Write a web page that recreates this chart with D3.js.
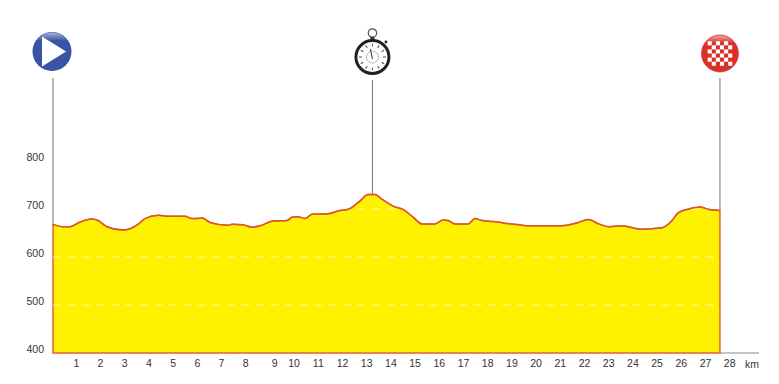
<!DOCTYPE html>
<html>
<head>
<meta charset="utf-8">
<script src="https://cdn.jsdelivr.net/npm/d3@7"></script>
<style>
    html, body { margin: 0; padding: 0; background: #ffffff; }
    svg { display: block; }
    text { font-family: "Liberation Sans", Arial, sans-serif; fill: #333333; }
</style>
</head>
<body>
<div id="chart"></div>
<script>
// Profile
const distances = [0, .41, .70, 1.12, 1.61, 1.86, 2.23, 2.89, 3.51, 3.80, 4.38, 4.71, 5.45, 5.74, 5.95, 6.16,
    6.49, 7.23, 7.40, 7.85, 8.22, 8.55, 9.09, 9.67, 9.88, 10.12, 10.41, 10.70, 11.36, 11.78, 12.23, 12.69,
    13.02, 13.31, 13.60, 14.05, 14.50, 14.88, 15.25, 15.79, 16.12, 16.32, 16.61, 17.15, 17.44, 17.73, 18.18, 18.60,
    19.26, 19.67, 21.03, 21.65, 22.11, 22.56, 22.98, 23.51, 24.30, 25.17, 25.58, 25.83, 26.28, 26.74, 27.11, 27.56];
const elevations = [668, 663, 663, 673, 679, 676, 663, 656, 668, 680, 687, 685, 685, 680, 680, 681,
    672, 666, 668, 667, 662, 665, 675, 676, 683, 684, 680, 689, 690, 696, 700, 717,
    730, 730, 720, 706, 698, 683, 669, 669, 677, 676, 669, 669, 680, 676, 674, 671,
    667, 665, 665, 671, 678, 669, 663, 665, 658, 661, 676, 692, 700, 704, 699, 697];

const kmTicks = d3.range(1, 29).map(d => d === 9 ? 9.2 : d);  // the 9 sits off its slot in the original
const yTicks = [400, 500, 600, 700, 800];
const gridLines = [500, 600, 700];
const startKm = 0, timeKm = 13.2, finishKm = 27.56;

const width = 779, height = 384;

const x = d3.scaleLinear().domain([0, 28]).range([53, 730.6]);
const y = d3.scaleLinear().domain([400, 800]).range([353, 161]);

const svg = d3.select("#chart")
    .append("svg")
    .attr("width", width)
    .attr("height", height);

const points = distances.map((d, i) => [d, elevations[i]]);

const area = d3.area()
    .x(d => x(d[0]))
    .y0(y(400))
    .y1(d => y(d[1]))
    .curve(d3.curveMonotoneX);

const topLine = d3.line()
    .x(d => x(d[0]))
    .y(d => y(d[1]))
    .curve(d3.curveMonotoneX);

const defs = svg.append("defs");

defs.append("clipPath")
    .attr("id", "profileClip")
    .append("path")
    .attr("d", area(points));

const gloss = defs.append("linearGradient")
    .attr("id", "gloss")
    .attr("x1", 0).attr("y1", 0).attr("x2", 0).attr("y2", 1);
gloss.append("stop").attr("offset", 0).attr("stop-color", "#ffffff").attr("stop-opacity", .55);
gloss.append("stop").attr("offset", .22).attr("stop-color", "#ffffff").attr("stop-opacity", 0);

// Vertical marker lines
svg.selectAll(".marker")
    .data([[startKm, 78, 668], [timeKm, 80, 730], [finishKm, 78, 697]])
    .join("line")
    .attr("class", "marker")
    .attr("x1", d => x(d[0]))
    .attr("x2", d => x(d[0]))
    .attr("y1", d => d[1])
    .attr("y2", d => y(d[2]))
    .attr("stroke", "#777777")
    .attr("stroke-width", 1);

// Baseline running on past the finish
svg.append("line")
    .attr("x1", x(finishKm))
    .attr("x2", 759)
    .attr("y1", y(400))
    .attr("y2", y(400))
    .attr("stroke", "#8a8a8a")
    .attr("stroke-width", 1);

// Profile
svg.append("path")
    .attr("d", area(points))
    .attr("fill", "#fff200")
    .attr("stroke", "#e4622f")
    .attr("stroke-width", 1.5);

svg.append("g")
    .attr("clip-path", "url(#profileClip)")
    .selectAll("line")
    .data(gridLines)
    .join("line")
    .attr("x1", x(0))
    .attr("x2", x(finishKm) - 6)
    .attr("y1", d => y(d))
    .attr("y2", d => y(d))
    .attr("stroke", "#fff9a8")
    .attr("stroke-width", 1)
    .attr("stroke-dasharray", "8 6.5");

svg.append("path")
    .attr("d", topLine(points))
    .attr("fill", "none")
    .attr("stroke", "#dc5a2a")
    .attr("stroke-width", 1.5);

// Axes, text only
const xAxis = svg.append("g")
    .attr("transform", `translate(-1.4,${y(400) + 4})`)
    .call(d3.axisBottom(x).tickValues(kmTicks).tickFormat(d => Math.round(d)).tickSize(0).tickPadding(3));
xAxis.select(".domain").remove();
xAxis.selectAll("text").attr("font-size", 10.5).attr("font-family", null);

svg.append("text")
    .attr("x", 752)
    .attr("y", 368)
    .attr("text-anchor", "middle")
    .attr("font-size", 10.5)
    .text("km");

const yAxis = svg.append("g")
    .attr("transform", "translate(44,-4)")
    .call(d3.axisLeft(y).tickValues(yTicks).tickSize(0).tickPadding(0));
yAxis.select(".domain").remove();
yAxis.selectAll("text").attr("font-size", 10.5).attr("font-family", null);

// Start icon
const startIcon = svg.append("g").attr("transform", `translate(${x(startKm) - 1},51.5)`);
startIcon.append("circle").attr("r", 19.5).attr("fill", "#3a53a4");
startIcon.append("path").attr("d", "M-10,-15 L14,0 L-10,15 Z").attr("fill", "#ffffff");
startIcon.append("circle").attr("r", 19).attr("fill", "url(#gloss)");

// Stopwatch icon
const watch = svg.append("g").attr("transform", `translate(${x(timeKm)},57)`);
watch.append("circle").attr("cy", -24).attr("r", 4.2).attr("fill", "none").attr("stroke", "#555555").attr("stroke-width", 1.2);
watch.append("rect").attr("x", -2).attr("y", -20).attr("width", 4).attr("height", 3).attr("fill", "#333333");
watch.append("circle").attr("cx", 13.5).attr("cy", -15).attr("r", 1.4).attr("fill", "#222222");
watch.append("circle").attr("r", 16.5).attr("fill", "#ffffff").attr("stroke", "#222222").attr("stroke-width", 3);
watch.selectAll(".mark")
    .data(d3.range(12))
    .join("line")
    .attr("class", "mark")
    .attr("y1", -13.5)
    .attr("y2", -10.5)
    .attr("transform", d => `rotate(${d * 30})`)
    .attr("stroke", "#555555")
    .attr("stroke-width", 1);
watch.append("circle").attr("r", 6).attr("fill", "none").attr("stroke", "#999999").attr("stroke-width", .7);
watch.append("line").attr("x1", 0).attr("y1", 2).attr("x2", -2).attr("y2", -8).attr("stroke", "#333333").attr("stroke-width", 1);

// Finish icon
const finish = svg.append("g").attr("transform", `translate(${x(finishKm)},53.5)`);
finish.append("circle").attr("r", 18.5).attr("fill", "#dc2f28").attr("stroke", "#b92a25").attr("stroke-width", .6);
const cell = 4.1;
const cells = d3.cross(d3.range(6), d3.range(6)).filter(d => (d[0] + d[1]) % 2 === 0
    && Math.hypot(d[0] - 2.5, d[1] - 2.5) < 3.6);
finish.selectAll(".cell")
    .data(cells)
    .join("rect")
    .attr("class", "cell")
    .attr("x", d => (d[0] - 3) * cell)
    .attr("y", d => (d[1] - 3) * cell)
    .attr("width", cell)
    .attr("height", cell)
    .attr("fill", "#ffffff");
finish.append("circle").attr("r", 18).attr("fill", "url(#gloss)");
</script>
</body>
</html>
